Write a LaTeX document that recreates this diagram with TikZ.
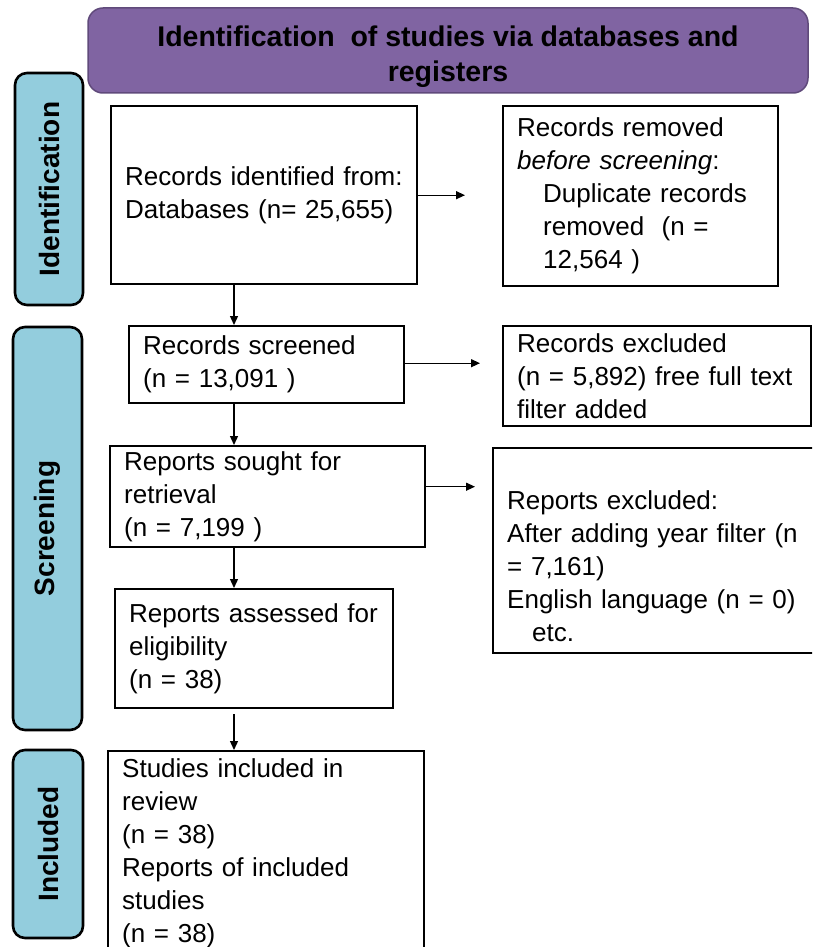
\documentclass[tikz,border=0pt]{standalone}
\usepackage{fontspec}
\setmainfont{Liberation Sans}
\usetikzlibrary{arrows.meta}
\definecolor{hdrpurple}{RGB}{128,100,162}
\definecolor{hdredge}{RGB}{96,74,123}
\definecolor{phaseblue}{RGB}{147,205,221}

\begin{document}
\begin{tikzpicture}[x=1pt,y=-1pt,
    box/.style={draw=black, line width=2.4pt, anchor=north west, align=left, inner xsep=14pt, inner ysep=0pt, font=\fontsize{26}{33}\selectfont},
    phase/.style={draw=black, line width=2.6pt, fill=phaseblue, rounded corners=12pt, rotate=90, inner sep=0pt, font=\bfseries\fontsize{28}{34}\selectfont},
    arr/.style={-{Triangle[length=9pt,width=8pt]}, line width=1.3pt}]
      \clip (0,0) rectangle (812,947);
      \fill[white] (0,0) rectangle (812,947);
      \node[draw=hdredge, line width=1.5pt, fill=hdrpurple, rounded corners=15pt, minimum width=720pt, minimum height=85pt, align=center, font=\bfseries\fontsize{28.5}{35}\selectfont] (head) at (448,50.5) {\rule{0pt}{34pt}Identification\ \ of studies via databases and\\registers};
      \node[phase, minimum width=232pt, minimum height=68pt] (ident) at (49,189) {Identification};
      \node[phase, minimum width=403pt, minimum height=69pt] (screen) at (47.5,528.5) {Screening};
      \node[phase, minimum width=188pt, minimum height=70pt] (incl) at (48,844) {Included};
      \node[box, text width=278pt, minimum height=178pt] (b1) at (110,105) {Records identified from:\\Databases (n= 25,655)};
      \node[box, text width=247pt, minimum height=180pt] (b2) at (502,105) {Records removed\\\textit{before screening}:\\\hspace*{26pt}Duplicate records\\\hspace*{26pt}removed\ \ (n =\\\hspace*{26pt}12,564 )};
      \node[box, text width=247pt, minimum height=77pt] (b3) at (128,325) {Records screened\\(n = 13,091 )};
      \node[box, text width=280pt, minimum height=100pt] (b4) at (502,325) {Records excluded\\(n = 5,892) free full text\\filter added};
      \node[box, text width=287pt, minimum height=101pt] (b5) at (109,445) {Reports sought for\\retrieval\\(n = 7,199 )};
      \node[box, text width=312pt, minimum height=205pt] (b6) at (492,447) {\rule{0pt}{50pt}Reports excluded:\\After adding year filter (n\\= 7,161)\\English language (n = 0)\\\hspace*{25pt}etc.};
      \node[box, text width=250pt, minimum height=119pt] (b7) at (114,588) {Reports assessed for\\eligibility\\(n = 38)};
      \node[box, text width=288pt, minimum height=205pt] (b8) at (107,750) {Studies included in\\review\\(n = 38)\\Reports of included\\studies\\(n = 38)};
      \coordinate (spine) at (234,0);
      \draw[arr, shorten >=37pt] (b1.east) -- (b1.east -| b2.west);
      \draw[arr] (b1.south -| spine) -- (b3.north -| spine);
      \draw[arr, shorten >=22pt] ([yshift=1.5pt]b3.east) -- ([yshift=1.5pt]b3.east -| b4.west);
      \draw[arr] (b3.south -| spine) -- (b5.north -| spine);
      \draw[arr, shorten >=17pt] ([yshift=10pt]b5.east) -- ([yshift=10pt]b5.east -| b6.west);
      \draw[arr] (b5.south -| spine) -- (b7.north -| spine);
      \draw[arr, shorten <=5pt] (b7.south -| spine) -- (b8.north -| spine);
    \end{tikzpicture}
\end{document}
